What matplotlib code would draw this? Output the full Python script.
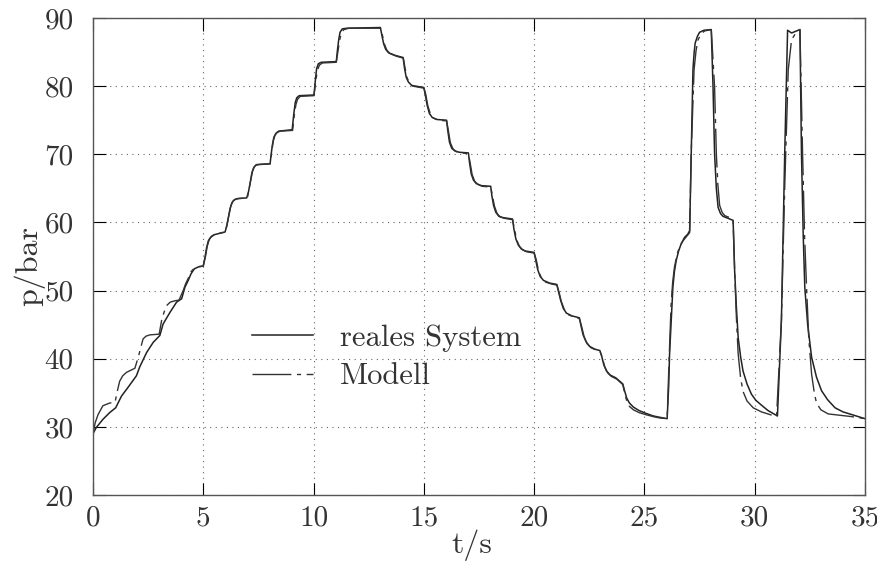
import matplotlib
matplotlib.use("Agg")
import matplotlib.pyplot as plt

# real system: time [s], pressure [bar]
t_real = [0, 0.15, 0.45, 0.76, 1.03, 1.29, 1.59, 1.97, 2.12, 2.43, 2.73, 3.03,
          3.18, 3.49, 3.79, 4.02, 4.17, 4.32, 4.45, 4.6, 4.8, 5.0,
          5.08, 5.15, 5.23, 5.33, 5.5, 5.99,
          6.07, 6.14, 6.22, 6.3, 6.4, 6.55, 6.97,
          7.05, 7.12, 7.2, 7.28, 7.38, 7.55, 8.03,
          8.07, 8.13, 8.2, 8.3, 8.42, 9.03,
          9.1, 9.17, 9.24, 9.35, 10.02,
          10.08, 10.14, 10.22, 10.35, 11.03,
          11.08, 11.14, 11.2, 11.3, 11.52, 13.03,
          13.1, 13.18, 13.27, 13.4, 13.71, 14.06,
          14.12, 14.2, 14.3, 14.45, 15.0,
          15.06, 15.15, 15.25, 15.38, 15.6, 16.03,
          16.08, 16.16, 16.26, 16.4, 16.6, 17.02,
          17.07, 17.15, 17.25, 17.38, 17.6, 18.03,
          18.08, 18.16, 18.26, 18.4, 18.6, 19.02,
          19.08, 19.17, 19.28, 19.42, 19.6, 20.0,
          20.07, 20.16, 20.27, 20.42, 20.7, 21.03,
          21.1, 21.2, 21.32, 21.46, 21.7, 22.05,
          22.12, 22.22, 22.35, 22.52, 22.75, 22.98,
          23.06, 23.16, 23.28, 23.45, 23.7, 24.02,
          24.1, 24.2, 24.32, 24.5, 24.75, 25.05, 25.4, 25.7, 26.03,
          26.1, 26.14, 26.22, 26.29, 26.36, 26.44, 26.55, 26.67, 26.82, 26.97,
          27.05, 27.12, 27.2, 27.25, 27.3, 27.4, 27.5, 27.7, 28.03,
          28.11, 28.18, 28.26, 28.34, 28.45, 28.56, 29.02,
          29.09, 29.17, 29.25, 29.36, 29.47, 29.65, 29.85, 30.05, 30.3, 30.6, 31.03,
          31.21, 31.36, 31.49, 31.67, 32.05,
          32.12, 32.2, 32.27, 32.4, 32.58, 32.8, 33.03, 33.3, 33.64, 34.0, 34.4, 35.0]
p_real = [29.0, 29.9, 31.1, 32.1, 32.8, 34.5, 35.8, 37.5, 38.8, 40.9, 42.4, 43.4,
          45.1, 46.8, 48.3, 48.8, 50.5, 51.5, 52.5, 53.2, 53.5, 53.6,
          54.9, 56.3, 57.3, 57.8, 58.2, 58.6,
          59.6, 60.8, 62.1, 62.9, 63.3, 63.5, 63.6,
          64.5, 65.7, 67.2, 68.0, 68.4, 68.5, 68.6,
          69.8, 71.3, 72.5, 73.1, 73.4, 73.6,
          75.8, 77.6, 78.3, 78.6, 78.7,
          80.8, 82.6, 83.3, 83.5, 83.6,
          85.2, 86.8, 87.9, 88.4, 88.5, 88.6,
          87.4, 86.2, 85.4, 84.9, 84.5, 84.2,
          82.7, 81.3, 80.6, 80.1, 79.8,
          78.8, 77.2, 76.0, 75.4, 75.1, 75.0,
          73.6, 71.8, 70.9, 70.5, 70.3, 70.2,
          68.8, 67.1, 66.2, 65.7, 65.4, 65.3,
          64.0, 62.5, 61.5, 60.9, 60.7, 60.5,
          59.1, 57.6, 56.7, 56.1, 55.8, 55.6,
          54.5, 53.1, 52.1, 51.5, 51.1, 50.9,
          49.9, 48.6, 47.4, 46.7, 46.3, 46.0,
          44.9, 43.5, 42.5, 41.8, 41.4, 41.2,
          40.4, 39.1, 38.2, 37.6, 37.2, 36.3,
          35.3, 34.2, 33.5, 32.9, 32.4, 32.0, 31.6, 31.4, 31.2,
          36.0, 40.7, 46.0, 50.5, 52.8, 54.4, 55.8, 56.9, 57.8, 58.3,
          58.8, 70.1, 82.4, 84.8, 86.3, 87.3, 87.9, 88.2, 88.3,
          79.9, 70.1, 65.0, 62.2, 61.3, 60.9, 60.3,
          52.9, 47.5, 43.1, 40.3, 38.2, 36.3, 34.8, 33.9, 33.2, 32.4, 31.6,
          45.6, 70.1, 88.2, 87.8, 88.3,
          70.1, 58.0, 50.5, 45.0, 40.2, 37.3, 35.3, 34.0, 32.8, 32.2, 31.8, 31.2]

# model
t_model = [0, 0.1, 0.23, 0.45, 0.76, 1.0, 1.1, 1.21, 1.35, 1.52, 1.9, 2.05, 2.27,
           2.4, 2.58, 3.0, 3.11, 3.22, 3.34, 3.5, 3.71, 3.9, 4.09, 4.2, 4.32,
           4.45, 4.6, 4.8, 5.0,
           5.1, 5.18, 5.27, 5.38, 5.55, 6.0,
           6.09, 6.17, 6.25, 6.34, 6.45, 6.6, 7.0,
           7.07, 7.15, 7.23, 7.32, 7.42, 8.03,
           8.1, 8.17, 8.25, 8.35, 8.5, 9.05,
           9.13, 9.2, 9.28, 9.4, 10.02,
           10.1, 10.18, 10.27, 10.4, 11.03,
           11.11, 11.19, 11.27, 11.38, 11.6, 13.03,
           13.12, 13.22, 13.32, 13.45, 13.75, 14.07,
           14.14, 14.24, 14.36, 14.5, 15.0,
           15.08, 15.18, 15.3, 15.44, 15.65, 16.03,
           16.1, 16.2, 16.32, 16.46, 16.65, 17.02,
           17.09, 17.19, 17.31, 17.44, 17.65, 18.03,
           18.1, 18.2, 18.32, 18.46, 18.65, 19.02,
           19.1, 19.2, 19.33, 19.47, 19.65, 20.0,
           20.09, 20.2, 20.32, 20.47, 20.75, 21.03,
           21.12, 21.23, 21.37, 21.52, 21.75, 22.05,
           22.14, 22.26, 22.4, 22.58, 22.8, 22.98,
           23.08, 23.2, 23.34, 23.5, 23.75, 24.02,
           24.1, 24.2, 24.32, 24.5, 24.75, 25.05, 25.4, 25.7, 26.03,
           26.12, 26.21, 26.28, 26.36, 26.47, 26.59, 26.75, 26.9, 27.05,
           27.12, 27.25, 27.34, 27.43, 27.58, 27.73, 28.03,
           28.18, 28.26, 28.33, 28.41, 28.52, 28.64, 29.02,
           29.09, 29.17, 29.25, 29.36, 29.47, 29.65, 29.93, 30.3, 30.7, 30.99,
           31.21, 31.36, 31.52, 31.67, 31.9, 32.05,
           32.17, 32.26, 32.35, 32.45, 32.58, 32.7, 32.8, 33.0, 33.33, 34.4, 35.0]
p_model = [29.0, 30.6, 31.8, 33.1, 33.5, 33.6, 35.2, 36.7, 37.5, 38.0, 38.6, 40.2, 42.9,
           43.3, 43.5, 43.6, 45.6, 46.8, 47.8, 48.3, 48.5, 48.6, 50.0, 51.0, 51.8,
           52.8, 53.3, 53.5, 53.6,
           55.0, 56.5, 57.5, 58.0, 58.3, 58.6,
           59.8, 61.2, 62.4, 63.1, 63.4, 63.5, 63.6,
           64.8, 66.2, 67.5, 68.2, 68.5, 68.6,
           70.3, 71.9, 72.8, 73.2, 73.4, 73.5,
           75.8, 77.3, 78.1, 78.5, 78.6,
           80.8, 82.4, 83.1, 83.4, 83.5,
           85.2, 86.9, 87.9, 88.3, 88.5, 88.5,
           87.5, 86.1, 85.3, 84.8, 84.4, 84.1,
           82.8, 81.2, 80.4, 80.0, 79.7,
           78.9, 77.1, 75.9, 75.3, 75.0, 74.9,
           73.7, 71.7, 70.8, 70.4, 70.2, 70.1,
           68.9, 67.0, 66.0, 65.6, 65.3, 65.2,
           64.1, 62.4, 61.3, 60.8, 60.6, 60.4,
           59.2, 57.5, 56.5, 56.0, 55.7, 55.5,
           54.6, 52.9, 51.9, 51.3, 51.0, 50.8,
           49.9, 48.4, 47.2, 46.5, 46.2, 45.9,
           44.9, 43.3, 42.2, 41.6, 41.3, 41.1,
           40.3, 38.8, 37.9, 37.4, 37.0, 36.2,
           35.0, 33.8, 33.0, 32.5, 32.1, 31.8, 31.5, 31.3, 31.2,
           40.0, 48.0, 51.2, 53.4, 55.2, 56.4, 57.3, 57.9, 58.5,
           70.1, 82.4, 85.2, 86.8, 87.7, 88.1, 88.3,
           79.9, 70.1, 65.5, 62.5, 61.5, 61.0, 60.5,
           52.9, 46.0, 40.7, 37.2, 35.2, 33.8, 32.8, 32.2, 31.8, 31.5,
           45.6, 65.2, 82.4, 86.8, 88.0, 88.3,
           70.1, 58.0, 50.5, 43.0, 37.7, 35.0, 33.5, 32.5, 31.9, 31.5, 31.2]

x_ticks = [0, 5, 10, 15, 20, 25, 30, 35]
y_ticks = [20, 30, 40, 50, 60, 70, 80, 90]

plt.rcParams["font.family"] = ["cmr10", "DejaVu Serif"]
plt.rcParams["axes.unicode_minus"] = False

fig = plt.figure(figsize=(8.78, 5.71), dpi=100)
ax = fig.add_axes([0.1059, 0.1331, 0.8793, 0.8354])

ax.plot(t_real, p_real, color="#222222", lw=1.1, label="reales System")
ax.plot(t_model, p_model, color="#333333", lw=1.0,
        linestyle=(0, (28, 4, 3, 4)), label="Modell")

ax.set_xlim(0, 35)
ax.set_ylim(20, 90)
ax.set_xticks(x_ticks)
ax.set_yticks(y_ticks)
ax.grid(True, linestyle=(0, (1, 4)), color="#666666", lw=0.8)
ax.tick_params(direction="in", length=9, width=0.8, labelsize=21,
               labelcolor="#333333", top=True, right=True)
ax.tick_params(axis="y", pad=14)
ax.tick_params(axis="x", pad=7)
for s in ax.spines.values():
    s.set_color("#555555")
    s.set_linewidth(1.0)

ax.set_xlabel("t/s", fontsize=23, color="#333333")
ax.set_ylabel("p/bar", fontsize=23, color="#333333")
ax.xaxis.set_label_coords(0.491, -0.073)
ax.yaxis.set_label_coords(-0.062, 0.48)

leg = ax.legend(loc="upper left", bbox_to_anchor=(0.17, 0.415), frameon=False,
                fontsize=22, handlelength=2.0, handletextpad=0.9,
                labelspacing=0.36)
for txt in leg.get_texts():
    txt.set_color("#333333")

fig.savefig("out.png", dpi=100)
